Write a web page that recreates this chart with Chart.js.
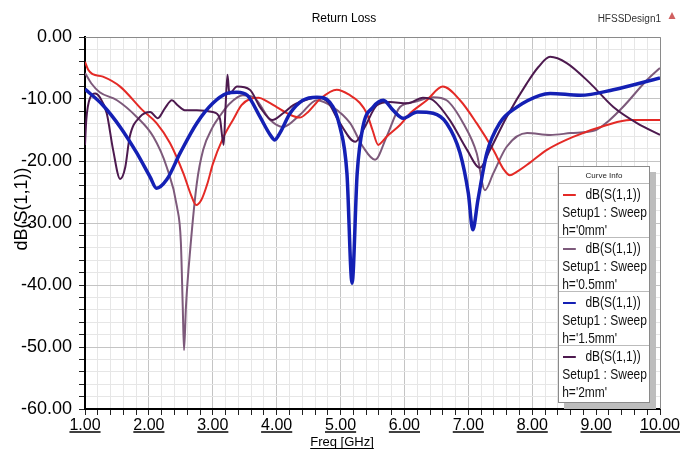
<!DOCTYPE html>
<html>
<head>
<meta charset="utf-8">
<script src="https://cdn.jsdelivr.net/npm/chart.js@4.4.0/dist/chart.umd.min.js"></script>
<style>
  body { margin: 0; background: #fff; }
  #wrap { position: relative; width: 687px; height: 450px; font-family: "Liberation Sans", Arial, sans-serif; }
  #legend {
    position: absolute; left: 558px; top: 166px; width: 90px; height: 235px;
    background: #fff; border: 1px solid #8a8a8a; box-shadow: 6px 6px 0 #bdbdbd;
  }
  #legend .head { height: 16px; line-height: 17px; font-size: 8px; text-align: center; border-bottom: 1px solid #bbb; color: #222; }
  #legend .entry { height: 54px; border-bottom: 1px solid #bbb; padding-top: 1px; box-sizing: border-box; }
  #legend .entry:last-child { border-bottom: none; }
  #legend .ln { height: 18px; line-height: 18px; font-size: 15px; white-space: nowrap; transform: scaleX(0.8); transform-origin: left center; color: #111; padding-left: 4px; }
  #legend .sw { display: inline-block; width: 16px; height: 2px; vertical-align: middle; margin-right: 12px; margin-left: 1px; }
</style>
</head>
<body>
<div id="wrap">
  <canvas id="rlChart" width="687" height="450"></canvas>
  <div id="legend"></div>
</div>
<script>
// h = 0mm
const freq0 = [1.00, 1.05, 1.12, 1.28, 1.55, 1.90, 2.12, 2.33, 2.54, 2.66, 2.74, 2.82, 2.92, 3.00, 3.16, 3.32, 3.45, 3.58, 3.72, 3.85, 4.00, 4.20, 4.36, 4.50, 4.68, 4.94, 5.15, 5.30, 5.41, 5.50, 5.59, 5.66, 5.72, 5.93, 6.09, 6.35, 6.60, 6.87, 7.13, 7.39, 7.55, 7.65, 7.75, 7.96, 8.23, 8.64, 9.17, 9.53, 10.00];
const db0   = [-4.0, -5.3, -6.0, -6.4, -8.0, -11.8, -13.9, -17.1, -22.0, -25.5, -27.1, -26.3, -23.5, -20.5, -16.3, -13.3, -11.0, -10.0, -9.8, -10.4, -11.3, -12.5, -13.0, -12.0, -10.0, -8.5, -9.4, -10.6, -12.3, -15.0, -17.4, -16.8, -16.1, -14.2, -12.3, -10.2, -8.0, -10.2, -13.9, -18.2, -21.3, -22.3, -21.8, -20.3, -18.2, -16.1, -14.2, -13.4, -13.4];

// h = 0.5mm
const freq05 = [1.00, 1.10, 1.23, 1.50, 1.81, 2.07, 2.28, 2.44, 2.50, 2.53, 2.55, 2.58, 2.65, 2.75, 2.85, 3.00, 3.10, 3.27, 3.47, 3.65, 3.90, 4.10, 4.36, 4.63, 4.88, 5.15, 5.35, 5.54, 5.72, 5.93, 6.15, 6.45, 6.66, 6.92, 7.13, 7.26, 7.39, 7.60, 7.92, 8.28, 8.60, 9.00, 9.20, 9.42, 9.80, 10.00];
const db05   = [-5.8, -7.5, -8.9, -10.2, -12.9, -16.1, -21.0, -27.4, -33.0, -43.5, -50.5, -43.5, -33.9, -23.6, -18.2, -14.5, -12.9, -10.7, -9.4, -9.8, -13.4, -14.5, -12.6, -10.2, -11.3, -13.9, -17.7, -19.8, -16.1, -11.3, -10.5, -9.7, -10.2, -13.9, -18.7, -24.7, -22.0, -17.7, -15.5, -15.8, -15.5, -15.0, -13.5, -11.3, -6.9, -5.0];

// h = 1.5mm
const freq15 = [1.00, 1.28, 1.55, 1.81, 2.02, 2.12, 2.28, 2.49, 2.75, 3.00, 3.22, 3.38, 3.54, 3.74, 3.90, 3.97, 4.05, 4.21, 4.41, 4.63, 4.83, 4.99, 5.10, 5.18, 5.26, 5.35, 5.51, 5.67, 5.82, 5.98, 6.20, 6.45, 6.66, 6.87, 7.00, 7.07, 7.15, 7.29, 7.49, 7.76, 8.12, 8.28, 8.75, 9.27, 10.00];
const db15   = [-8.4, -11.0, -14.5, -18.7, -22.6, -24.4, -23.0, -18.7, -13.9, -10.7, -9.1, -8.9, -9.4, -12.9, -15.8, -16.6, -15.5, -12.3, -10.2, -9.7, -10.5, -14.5, -22.0, -39.7, -22.0, -14.5, -11.3, -10.2, -11.8, -13.1, -12.1, -12.3, -13.9, -18.7, -25.2, -31.1, -26.3, -18.7, -13.9, -11.3, -9.4, -9.1, -9.4, -8.5, -6.6];

// h = 2mm
const freq2 = [1.00, 1.02, 1.08, 1.16, 1.23, 1.34, 1.44, 1.55, 1.63, 1.70, 1.86, 2.02, 2.14, 2.25, 2.36, 2.45, 2.56, 2.75, 3.00, 3.11, 3.17, 3.20, 3.23, 3.26, 3.38, 3.58, 3.74, 3.93, 4.10, 4.26, 4.50, 4.63, 4.80, 4.99, 5.23, 5.38, 5.57, 5.77, 6.04, 6.29, 6.45, 6.71, 6.98, 7.18, 7.34, 7.60, 7.92, 8.10, 8.28, 8.54, 8.90, 9.27, 9.64, 10.00];
const db2   = [-17.4, -13.4, -9.8, -9.1, -9.7, -12.3, -18.2, -22.9, -21.0, -16.1, -12.9, -12.1, -13.1, -11.5, -10.2, -11.0, -11.8, -11.8, -12.1, -13.1, -17.4, -11.3, -6.1, -9.1, -8.0, -8.5, -11.3, -13.4, -12.3, -11.0, -10.0, -9.7, -10.5, -13.9, -16.9, -14.5, -11.0, -10.5, -10.7, -9.8, -10.2, -13.4, -18.2, -21.1, -18.2, -12.9, -7.4, -4.8, -3.2, -4.2, -7.4, -11.3, -13.9, -15.8];

const seriesNames = ["h='0mm'", "h='0.5mm'", "h='1.5mm'", "h='2mm'"];
const seriesColors = ['#e42a26', '#7d5a7b', '#1420b4', '#4d1a4f'];

const xMajorTicks = [1, 2, 3, 4, 5, 6, 7, 8, 9, 10];
const yMajorTicks = [0, -10, -20, -30, -40, -50, -60];

const toPts = (fs, ds) => fs.map((f, i) => ({ x: f, y: ds[i] }));

const xTicks = [];
for (let i = 0; i <= 45; i++) xTicks.push(Math.round((1 + i * 0.2) * 10) / 10);
const yTicks = [];
for (let i = 0; i <= 30; i++) yTicks.push(-60 + i * 2);

const isMajorX = v => xMajorTicks.includes(Math.round(v * 10) / 10);
const isMajorY = v => yMajorTicks.includes(v);

// legend box as html
const legendEl = document.getElementById('legend');
let html = '<div class="head">Curve Info</div>';
seriesNames.forEach((n, i) => {
  html += '<div class="entry">' +
    '<div class="ln"><span class="sw" style="background:' + seriesColors[i] + '"></span>dB(S(1,1))</div>' +
    '<div class="ln">Setup1 : Sweep</div>' +
    '<div class="ln">' + n + '</div></div>';
});
legendEl.innerHTML = html;

const FONT = '"Liberation Sans", Arial, sans-serif';

const decor = {
  id: 'decor',
  beforeDraw(chart) {
    const ctx = chart.ctx;
    ctx.save();
    ctx.fillStyle = '#fff';
    ctx.fillRect(0, 0, chart.width, chart.height);
    ctx.restore();
  },
  afterDraw(chart) {
    const { ctx, chartArea: a, scales: { x } } = chart;
    ctx.save();
    // top and right frame
    ctx.strokeStyle = '#8a8a8a';
    ctx.lineWidth = 1;
    ctx.beginPath();
    ctx.moveTo(a.left, a.top + 0.5);
    ctx.lineTo(a.right + 0.5, a.top + 0.5);
    ctx.lineTo(a.right + 0.5, a.bottom);
    ctx.stroke();

    // underline the x tick labels
    ctx.font = '16px ' + FONT;
    ctx.strokeStyle = '#000';
    ctx.lineWidth = 1.5;
    x.ticks.forEach(t => {
      if (!isMajorX(t.value)) return;
      const w = ctx.measureText(t.value.toFixed(2)).width;
      const px = x.getPixelForValue(t.value);
      ctx.beginPath();
      ctx.moveTo(px - w / 2, 432);
      ctx.lineTo(px + w / 2, 432);
      ctx.stroke();
    });

    // x title
    ctx.fillStyle = '#000';
    ctx.font = '13px ' + FONT;
    ctx.textAlign = 'center';
    ctx.textBaseline = 'alphabetic';
    const xt = 'Freq [GHz]';
    const xw = ctx.measureText(xt).width;
    ctx.fillText(xt, 342, 446);
    ctx.lineWidth = 1;
    ctx.beginPath();
    ctx.moveTo(342 - xw / 2, 448.5);
    ctx.lineTo(342 + xw / 2, 448.5);
    ctx.stroke();

    // y title
    ctx.save();
    ctx.translate(22, 209);
    ctx.rotate(-Math.PI / 2);
    ctx.font = '18px ' + FONT;
    ctx.textBaseline = 'middle';
    ctx.fillText('dB(S(1,1))', 0, 0);
    ctx.restore();

    // chart title and design name
    ctx.font = '12px ' + FONT;
    ctx.textBaseline = 'middle';
    ctx.fillText('Return Loss', 344, 19);
    ctx.font = '10px ' + FONT;
    ctx.fillStyle = '#333';
    ctx.textAlign = 'right';
    ctx.fillText('HFSSDesign1', 661, 19);
    ctx.fillStyle = '#d06060';
    ctx.beginPath();
    ctx.moveTo(672, 12);
    ctx.lineTo(675.5, 19);
    ctx.lineTo(668.5, 19);
    ctx.closePath();
    ctx.fill();
    ctx.restore();
  }
};

const mk = (i, fs, ds, bw, order) => ({
  label: seriesNames[i],
  data: toPts(fs, ds),
  borderColor: seriesColors[i],
  backgroundColor: seriesColors[i],
  borderWidth: bw,
  pointRadius: 0,
  cubicInterpolationMode: 'monotone',
  order: order
});

new Chart(document.getElementById('rlChart'), {
  type: 'line',
  data: {
    datasets: [
      mk(0, freq0, db0, 2, 2),
      mk(1, freq05, db05, 2, 3),
      mk(2, freq15, db15, 3.5, 0),
      mk(3, freq2, db2, 2, 1)
    ]
  },
  options: {
    responsive: false,
    animation: false,
    layout: { padding: { top: 37, right: 27, left: 0, bottom: 0 } },
    plugins: {
      legend: { display: false },
      title: { display: false },
      tooltip: { enabled: false }
    },
    scales: {
      x: {
        type: 'linear',
        min: 1, max: 10,
        afterBuildTicks: s => { s.ticks = xTicks.map(v => ({ value: v })); },
        afterFit: s => { s.height = 41; },
        grid: {
          color: c => isMajorX(c.tick.value) ? '#c4c4c4' : '#e6e6e6',
          tickColor: '#222',
          tickLength: 6,
          lineWidth: 1
        },
        border: { color: '#000', width: 2 },
        ticks: {
          autoSkip: false, maxRotation: 0, minRotation: 0, padding: 1,
          color: '#000',
          font: { family: FONT, size: 16 },
          callback: v => isMajorX(v) ? v.toFixed(2) : ''
        }
      },
      y: {
        min: -60, max: 0,
        afterBuildTicks: s => { s.ticks = yTicks.map(v => ({ value: v })); },
        afterFit: s => { s.width = 85; },
        grid: {
          color: c => isMajorY(c.tick.value) ? '#c4c4c4' : '#e6e6e6',
          tickColor: '#222',
          tickLength: 6,
          lineWidth: 1
        },
        border: { color: '#000', width: 2 },
        ticks: {
          autoSkip: false, padding: 7,
          color: '#000',
          font: { family: FONT, size: 18 },
          callback: v => isMajorY(v) ? v.toFixed(2) : ''
        }
      }
    }
  },
  plugins: [decor]
});
</script>
</body>
</html>
